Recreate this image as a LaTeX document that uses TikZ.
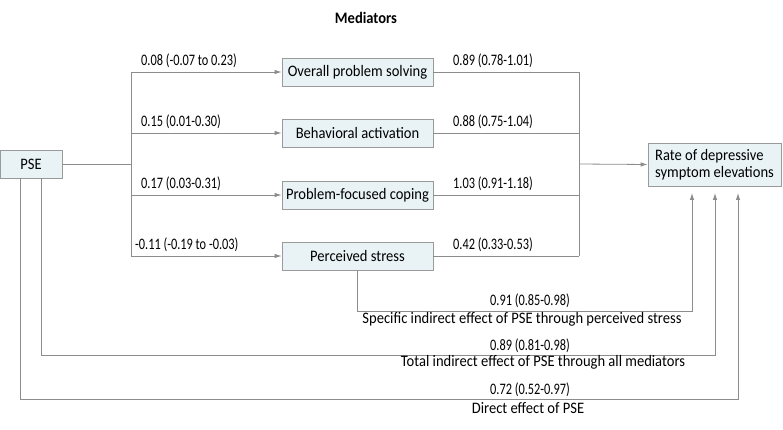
\documentclass[tikz,border=0pt]{standalone}
\usepackage{fontspec}
\setmainfont{Carlito}[FakeStretch=0.91]
\newfontfamily\numfont{Carlito}[FakeStretch=0.77]
\usetikzlibrary{arrows.meta}
\definecolor{boxfill}{HTML}{E9F2F5}
\definecolor{boxline}{HTML}{9A9A9A}
\definecolor{conn}{HTML}{8C8C8C}
\begin{document}
\begin{tikzpicture}[x=1pt,y=-1pt,
  every node/.style={font=\fontsize{16}{17}\selectfont,text=black},
  medbox/.style={draw=boxline,fill=boxfill,line width=0.8pt,minimum width=151pt,minimum height=28pt,inner sep=0pt},
  line/.style={draw=conn,line width=0.8pt},
  arr/.style={line,-{Latex[length=7pt,width=4.5pt]}},
  lab/.style={inner sep=0pt,anchor=south west,font=\fontsize{16}{17}\selectfont\numfont},
  num/.style={font=\fontsize{16}{17}\selectfont\numfont}]
\useasboundingbox (0,0) rectangle (783,430);
\node[font=\fontsize{16}{17}\selectfont\bfseries] (title) at (366,18) {Mediators};
\node[medbox,minimum width=62pt] (pse) at (31,164) {PSE};
\node[medbox] (m1) at (357.5,72) {Overall problem solving};
\node[medbox] (m2) at (357.5,133) {Behavioral activation};
\node[medbox] (m3) at (357.5,195) {Problem-focused coping};
\node[medbox,minimum width=133pt,minimum height=43pt,align=left,inner xsep=6pt,font=\fontsize{16}{17}\selectfont] (out) at (714.5,164.5) {Rate of depressive\\symptom elevations};
\node[medbox] (m4) at (357.5,256) {Perceived stress};
\coordinate (tl) at (131,164);
\coordinate (tr) at (579,164);
\coordinate (u1) at (692,193);
\coordinate (u2) at (715,193);
\coordinate (u3) at (738,193);
\draw[line] (pse.east) -- (tl);
\draw[line] (131,72) -- (131,256);
\draw[arr] (131,72) -- (m1.west);
\draw[arr] (131,133) -- (m2.west);
\draw[arr] (131,195) -- (m3.west);
\draw[arr] (131,256) -- (m4.west);
\draw[line] (m1.east) -- (579,72);
\draw[line] (m2.east) -- (579,133);
\draw[line] (m3.east) -- (579,195);
\draw[line] (m4.east) -- (579,256);
\draw[line] (579,72) -- (579,256);
\draw[arr] (tr) -- (out.west);
\node[lab] (l1) at (141,68) {0.08 (-0.07 to 0.23)};
\node[lab] (l2) at (141,129) {0.15 (0.01-0.30)};
\node[lab] (l3) at (141,191) {0.17 (0.03-0.31)};
\node[lab] (l4) at (135,252) {-0.11 (-0.19 to -0.03)};
\node[lab] (r1) at (453,68) {0.89 (0.78-1.01)};
\node[lab] (r2) at (453,129) {0.88 (0.75-1.04)};
\node[lab] (r3) at (453,191) {1.03 (0.91-1.18)};
\node[lab] (r4) at (453,252) {0.42 (0.33-0.53)};
\draw[arr] (m4.south) |- (692,311) -- (u1);
\draw[arr] ([xshift=10pt]pse.south) |- (715,355) -- (u2);
\draw[arr] ([xshift=-11pt]pse.south) |- (738,399) -- (u3);
\node[num] (e1) at (530,301) {0.91 (0.85-0.98)};
\node (c1) at (522,319) {Specific indirect effect of PSE through perceived stress};
\node[num] (e2) at (530,346) {0.89 (0.81-0.98)};
\node (c2) at (543,362) {Total indirect effect of PSE through all mediators};
\node[num] (e3) at (530,390) {0.72 (0.52-0.97)};
\node (c3) at (528,408) {Direct effect of PSE};
\end{tikzpicture}
\end{document}
